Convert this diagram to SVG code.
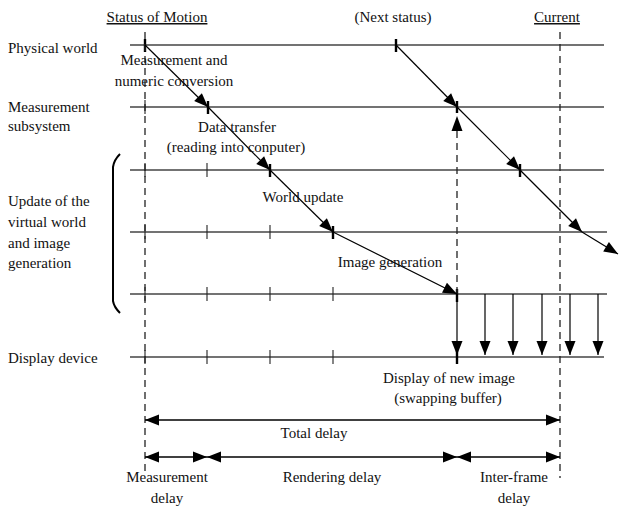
<svg xmlns="http://www.w3.org/2000/svg" width="619" height="507" viewBox="0 0 619 507">
<style>
text{font-family:"Liberation Serif","Times New Roman",serif;font-size:15px;fill:#111}
.c{text-anchor:middle}
.row{stroke:#444;stroke-width:1.3;fill:none}
.tk{stroke:#222;stroke-width:1.1}
.tt{stroke:#000;stroke-width:2.4}
.ds{stroke:#222;stroke-width:1.3;stroke-dasharray:7 5;fill:none}
.ar{stroke:#000;stroke-width:1.2;fill:none;marker-end:url(#ah)}
.dim{stroke:#000;stroke-width:1.3;fill:none;marker-end:url(#ah);marker-start:url(#ah)}
</style>
<defs>
<marker id="ah" markerUnits="userSpaceOnUse" markerWidth="16" markerHeight="12" viewBox="0 0 16 12" refX="15" refY="6" orient="auto-start-reverse">
<path d="M1,0.5 L15,6 L1,11.5 Z" fill="#000"/>
</marker>
</defs>

<g id="headers">
<text class="c" x="157" y="22" text-decoration="underline">Status of Motion</text>
<text class="c" x="393" y="22">(Next status)</text>
<text class="c" x="557" y="22" text-decoration="underline">Current</text>
</g>

<g id="physical-world">
<text x="8" y="53">Physical world</text>
<line class="row" x1="130" y1="45" x2="604" y2="45"/>
<line class="tt" x1="145" y1="39" x2="145" y2="52"/>
<line class="tt" x1="396" y1="39" x2="396" y2="52"/>
</g>

<g id="measurement-subsystem">
<text x="8" y="112">Measurement</text>
<text x="8" y="131">subsystem</text>
<line class="row" x1="130" y1="107" x2="604" y2="107"/>
<line class="tk" x1="145" y1="100" x2="145" y2="114"/>
<line class="tt" x1="208" y1="101" x2="208" y2="114"/>
<line class="tt" x1="457" y1="101" x2="457" y2="113"/>
</g>

<g id="update-virtual-world">
<text x="8" y="206">Update of the</text>
<text x="8" y="227">virtual world</text>
<text x="8" y="248">and image</text>
<text x="8" y="268">generation</text>
<path d="M120,154 Q114,160 113,167 L113,301 Q114,307 120,313" stroke="#000" stroke-width="2" fill="none"/>
<line class="row" x1="130" y1="170" x2="604" y2="170"/>
<line class="row" x1="130" y1="232" x2="607" y2="232"/>
<line class="row" x1="130" y1="294" x2="607" y2="294"/>
<line class="tk" x1="145" y1="163" x2="145" y2="177"/>
<line class="tk" x1="207" y1="163" x2="207" y2="177"/>
<line class="tt" x1="270" y1="164" x2="270" y2="177"/>
<line class="tt" x1="520" y1="164" x2="520" y2="177"/>
<line class="tk" x1="145" y1="225" x2="145" y2="239"/>
<line class="tk" x1="207" y1="225" x2="207" y2="239"/>
<line class="tk" x1="270" y1="225" x2="270" y2="239"/>
<line class="tt" x1="333" y1="226" x2="333" y2="239"/>
<line class="tk" x1="145" y1="287" x2="145" y2="301"/>
<line class="tk" x1="207" y1="287" x2="207" y2="301"/>
<line class="tk" x1="270" y1="287" x2="270" y2="301"/>
<line class="tk" x1="333" y1="287" x2="333" y2="301"/>
<line class="tt" x1="457" y1="289" x2="457" y2="302"/>
</g>

<g id="display-device">
<text x="8" y="363">Display device</text>
<line class="row" x1="130" y1="357" x2="604" y2="357"/>
<line class="tk" x1="145" y1="350" x2="145" y2="364"/>
<line class="tk" x1="207" y1="350" x2="207" y2="364"/>
<line class="tk" x1="270" y1="350" x2="270" y2="364"/>
<line class="tk" x1="333" y1="350" x2="333" y2="364"/>
<line class="tt" x1="457" y1="350" x2="457" y2="364"/>
</g>

<g id="connectors">
<line class="ds" x1="145" y1="32" x2="145" y2="476"/>
<line class="ds" x1="560" y1="32" x2="560" y2="478"/>
<line class="ds" x1="457" y1="294" x2="457" y2="130"/>
<path d="M457,116 L451.5,131 L462.5,131 Z" fill="#000"/>

<line class="ar" x1="145" y1="45" x2="208" y2="107"/>
<line class="ar" x1="208" y1="107" x2="270" y2="170"/>
<line class="ar" x1="270" y1="170" x2="333" y2="232"/>
<line class="ar" x1="333" y1="232" x2="457" y2="294"/>
<line class="ar" x1="396" y1="45" x2="457" y2="107"/>
<line class="ar" x1="457" y1="107" x2="520" y2="170"/>
<line class="ar" x1="520" y1="170" x2="582" y2="232"/>
<line class="ar" x1="582" y1="232" x2="618" y2="254"/>

<line class="ar" x1="457" y1="294" x2="457" y2="355"/>
<line class="ar" x1="485" y1="294" x2="485" y2="355"/>
<line class="ar" x1="513" y1="294" x2="513" y2="355"/>
<line class="ar" x1="542" y1="294" x2="542" y2="355"/>
<line class="ar" x1="570" y1="294" x2="570" y2="355"/>
<line class="ar" x1="598" y1="294" x2="598" y2="355"/>

<line class="dim" x1="145" y1="420" x2="560" y2="420"/>
<line class="dim" x1="145" y1="457" x2="207" y2="457"/>
<line class="dim" x1="207" y1="457" x2="457" y2="457"/>
<line class="dim" x1="457" y1="457" x2="560" y2="457"/>
</g>

<g id="labels">
<text class="c" x="174" y="65">Measurement and</text>
<text class="c" x="174" y="86">numeric conversion</text>
<text class="c" x="237" y="132">Data transfer</text>
<text class="c" x="236" y="152">(reading into conputer)</text>
<text class="c" x="303" y="202">World update</text>
<text class="c" x="390" y="267">Image generation</text>
<text class="c" x="449" y="383">Display of new image</text>
<text class="c" x="448" y="403">(swapping buffer)</text>
<text class="c" x="314" y="438">Total delay</text>
<text class="c" x="167" y="482">Measurement</text>
<text class="c" x="167" y="503">delay</text>
<text class="c" x="332" y="482">Rendering delay</text>
<text class="c" x="514" y="482">Inter-frame</text>
<text class="c" x="514" y="503">delay</text>
</g>
</svg>
